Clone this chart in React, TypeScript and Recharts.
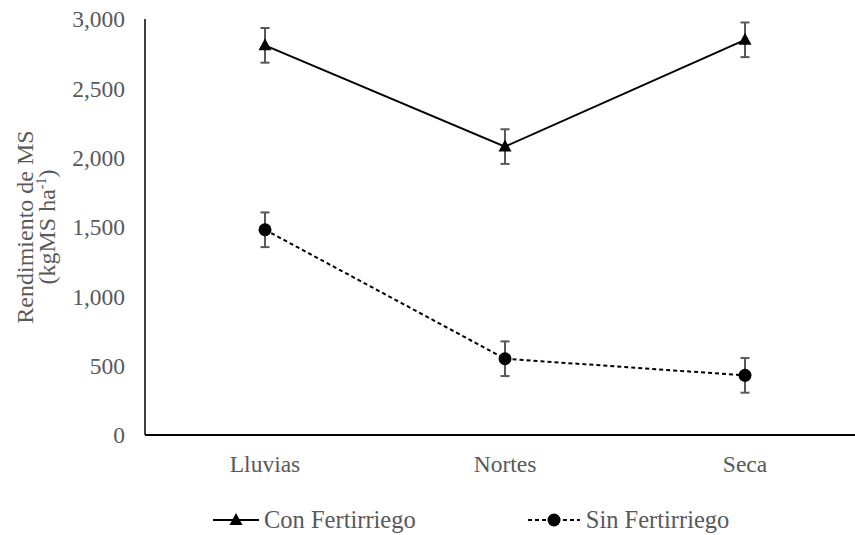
import { CartesianGrid, ErrorBar, Legend, Line, LineChart, XAxis, YAxis } from "recharts";

const seasons = ["Lluvias", "Nortes", "Seca"];
const conFert = [2810, 2080, 2850];
const conFertErr = [125, 125, 125];
const sinFert = [1480, 550, 430];
const sinFertErr = [125, 125, 125];
const yTicks = [0, 500, 1000, 1500, 2000, 2500, 3000];

const FONT = '"Times New Roman", "Liberation Serif", "DejaVu Serif", serif';
const GRAY = "#595959";

const data = seasons.map((s, i) => ({
  season: s,
  con: conFert[i],
  conErr: conFertErr[i],
  sin: sinFert[i],
  sinErr: sinFertErr[i],
}));

const Triangle = (props: any) => {
  const { cx, cy } = props;
  if (cx == null || cy == null) return null;
  return <polygon points={`${cx},${cy - 7} ${cx - 6.5},${cy + 5} ${cx + 6.5},${cy + 5}`} fill="#000" />;
};

const Circle = (props: any) => {
  const { cx, cy } = props;
  if (cx == null || cy == null) return null;
  return <circle cx={cx} cy={cy} r={6.5} fill="#000" />;
};

const YLabel = (props: any) => {
  const { viewBox } = props;
  const cy = viewBox.y + viewBox.height / 2;
  return (
    <g transform={`translate(33, ${cy}) rotate(-90)`}>
      <text textAnchor="middle" style={{ fontFamily: FONT }} fontSize={24} fill={GRAY}>
        <tspan x={0} dy={0}>Rendimiento de MS</tspan>
        <tspan x={0} dy={22}>
          (kgMS ha<tspan dy={-9} fontSize={14}>-1</tspan>
          <tspan dy={9}>)</tspan>
        </tspan>
      </text>
    </g>
  );
};

const LegendBox = () => (
  <div style={{ display: "flex", alignItems: "center", fontFamily: FONT, fontSize: 24.5, color: GRAY, paddingLeft: 213, height: 30 }}>
    <svg width={48} height={20} style={{ marginRight: 3 }}>
      <line x1={0} y1={10} x2={46} y2={10} stroke="#000" strokeWidth={2} />
      <polygon points="23,3 16.5,15 29.5,15" fill="#000" />
    </svg>
    <span>Con Fertirriego</span>
    <svg width={54} height={20} style={{ marginLeft: 112, marginRight: 4 }}>
      <line x1={0} y1={10} x2={52} y2={10} stroke="#000" strokeWidth={2} strokeDasharray="4 3" />
      <circle cx={26} cy={10} r={6.5} fill="#000" />
    </svg>
    <span>Sin Fertirriego</span>
  </div>
);

const tickStyle = { fontFamily: FONT, fontSize: 23.5, fill: GRAY };

export default function App() {
  return (
    <div style={{ position: "absolute", left: 0, top: 0, width: 855, height: 535, overflow: "hidden", background: "#fff" }}>
      <LineChart width={865} height={535} data={data} margin={{ top: 19, right: 0, bottom: 0, left: 0 }}>
        <CartesianGrid stroke="none" />
        <XAxis
          dataKey="season"
          padding={{ left: 120, right: 120 }}
          axisLine={{ stroke: "#000", strokeWidth: 2 }}
          tickLine={false}
          tickMargin={14}
          height={70}
          tick={tickStyle}
        />
        <YAxis
          width={145}
          domain={[0, 3000]}
          ticks={yTicks}
          tickFormatter={(v: number) => v.toLocaleString("en-US")}
          axisLine={{ stroke: "#000", strokeWidth: 1.5 }}
          tickLine={false}
          tickMargin={14}
          tick={tickStyle}
          label={<YLabel />}
        />
        <Legend verticalAlign="bottom" content={<LegendBox />} wrapperStyle={{ width: 865, left: 0 }} />
        <Line dataKey="con" stroke="#000" strokeWidth={2} dot={<Triangle />} activeDot={false} isAnimationActive={false} legendType="triangle">
          <ErrorBar dataKey="conErr" width={4.5} stroke={GRAY} strokeWidth={2} direction="y" />
        </Line>
        <Line dataKey="sin" stroke="#000" strokeWidth={2} strokeDasharray="4 3" dot={<Circle />} activeDot={false} isAnimationActive={false} legendType="circle">
          <ErrorBar dataKey="sinErr" width={4.5} stroke={GRAY} strokeWidth={2} direction="y" />
        </Line>
      </LineChart>
    </div>
  );
}
